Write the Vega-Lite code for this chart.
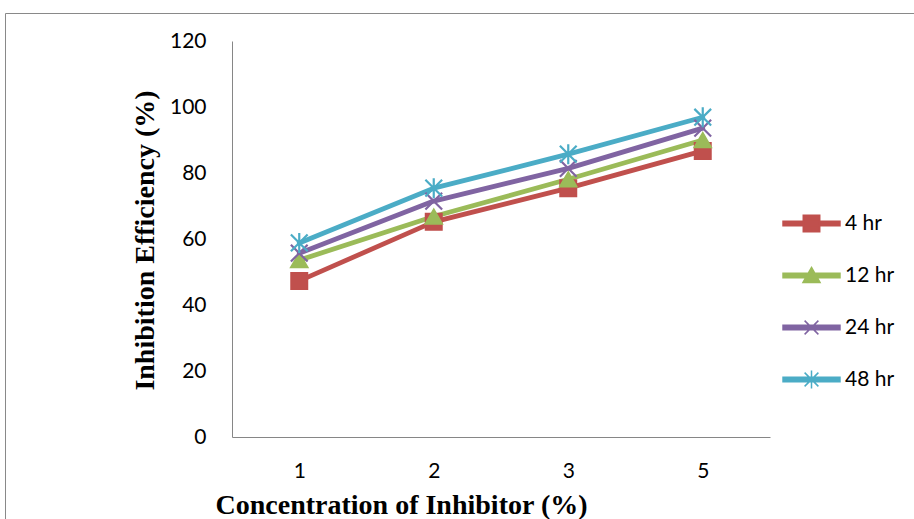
{
  "$schema": "https://vega.github.io/schema/vega-lite/v6.json",
  "autosize": {"type": "none"},
  "padding": {"left": 5, "top": 13, "right": 0, "bottom": 0},
  "width": 909,
  "height": 506,
  "background": "white",
  "title": {
    "text": "Figure 2: IR spectrum of BDHNPMPS",
    "font": "Liberation Serif",
    "fontStyle": "italic",
    "fontWeight": "normal",
    "fontSize": 25,
    "color": "#000000",
    "anchor": "middle",
    "baseline": "alphabetic",
    "offset": 9
  },
  "config": {"view": {"stroke": "#898989", "strokeWidth": 1}},
  "data": {
    "values": [
      {"series": "4 hr", "conc": "1", "ie": 47.3},
      {"series": "4 hr", "conc": "2", "ie": 65.2},
      {"series": "4 hr", "conc": "3", "ie": 75.4},
      {"series": "4 hr", "conc": "5", "ie": 86.7},
      {"series": "12 hr", "conc": "1", "ie": 53.6},
      {"series": "12 hr", "conc": "2", "ie": 66.8},
      {"series": "12 hr", "conc": "3", "ie": 78.1},
      {"series": "12 hr", "conc": "5", "ie": 90.0},
      {"series": "24 hr", "conc": "1", "ie": 55.7},
      {"series": "24 hr", "conc": "2", "ie": 71.5},
      {"series": "24 hr", "conc": "3", "ie": 81.4},
      {"series": "24 hr", "conc": "5", "ie": 93.6},
      {"series": "48 hr", "conc": "1", "ie": 58.8},
      {"series": "48 hr", "conc": "2", "ie": 75.4},
      {"series": "48 hr", "conc": "3", "ie": 85.7},
      {"series": "48 hr", "conc": "5", "ie": 96.9}
    ]
  },
  "encoding": {
    "x": {
      "field": "conc",
      "type": "ordinal",
      "sort": ["1", "2", "3", "5"],
      "scale": {"type": "point", "range": [227, 765], "padding": 0.5},
      "axis": {
        "orient": "bottom",
        "offset": -82,
        "ticks": false,
        "tickSize": 0,
        "grid": false,
        "labelAngle": 0,
        "labelFont": "Lato",
        "labelFontSize": 21,
        "labelColor": "#000000",
        "labelPadding": 23,
        "domainColor": "#868686",
        "domainWidth": 1,
        "title": "Concentration of Inhibitor (%)",
        "titleFont": "Liberation Serif",
        "titleFontSize": 28,
        "titleFontWeight": "bold",
        "titleColor": "#000000",
        "titleX": 396,
        "titleY": 76,
        "titleAlign": "center",
        "titleBaseline": "alphabetic"
      }
    },
    "y": {
      "field": "ie",
      "type": "quantitative",
      "scale": {"domain": [0, 120], "range": [424, 28], "nice": false, "zero": true},
      "axis": {
        "orient": "left",
        "offset": -227,
        "grid": false,
        "ticks": false,
        "tickSize": 0,
        "values": [0, 20, 40, 60, 80, 100, 120],
        "labelFont": "Lato",
        "labelFontSize": 21,
        "labelColor": "#000000",
        "labelPadding": 26,
        "labelFlush": false,
        "labelOverlap": false,
        "domainColor": "#868686",
        "domainWidth": 1,
        "title": "Inhibition Efficiency (%)",
        "titleFont": "Liberation Serif",
        "titleFontSize": 28,
        "titleFontWeight": "bold",
        "titleColor": "#000000",
        "titleAngle": 270,
        "titleX": -79,
        "titleY": 227,
        "titleAlign": "center",
        "titleBaseline": "alphabetic"
      }
    },
    "color": {
      "field": "series",
      "type": "nominal",
      "sort": ["4 hr", "12 hr", "24 hr", "48 hr"],
      "scale": {
        "domain": ["4 hr", "12 hr", "24 hr", "48 hr"],
        "range": ["#C0504D", "#9BBB59", "#8064A2", "#4BACC6"]
      },
      "legend": {
        "orient": "none",
        "legendX": 783.5,
        "legendY": 187.5,
        "title": null,
        "padding": 0,
        "rowPadding": 0,
        "labelFont": "Lato",
        "labelFontSize": 21,
        "labelColor": "#000000",
        "labelOffset": 10.5,
        "symbolSize": 1980,
        "symbolStrokeWidth": 1.5,
        "symbolOpacity": 1
      }
    }
  },
  "layer": [
    {"mark": {"type": "line", "strokeWidth": 4.8, "strokeCap": "round", "strokeJoin": "round"}},
    {
      "transform": [{"filter": "datum.ie < 0"}],
      "mark": {"type": "point", "filled": true, "size": 1980, "strokeWidth": 1.5, "opacity": 1},
      "encoding": {
        "shape": {
          "field": "series",
          "type": "nominal",
          "scale": {
            "domain": ["4 hr", "12 hr", "24 hr", "48 hr"],
            "range": [
              "M0,-1M0,1M-1.28,-0.096H1.28V0.096H-1.28ZM-0.37,-0.37H0.37V0.37H-0.37Z",
              "M0,-1M0,1M-1.28,-0.096H1.28V0.096H-1.28ZM0,-0.363L0.384,0.32H-0.384Z",
              "M0,-1M0,1M-1.28,-0.096H1.28V0.096H-1.28ZM-0.31,-0.31L0.31,0.31M-0.31,0.31L0.31,-0.31",
              "M0,-1M0,1M-1.28,-0.096H1.28V0.096H-1.28ZM-0.31,-0.31L0.31,0.31M-0.31,0.31L0.31,-0.31M0,-0.405V0.405"
            ]
          },
          "legend": null
        },
        "stroke": {
          "field": "series",
          "type": "nominal",
          "scale": {
            "domain": ["4 hr", "12 hr", "24 hr", "48 hr"],
            "range": ["#C0504D", "#9BBB59", "#8064A2", "#4BACC6"]
          },
          "legend": null
        }
      }
    },
    {
      "transform": [{"filter": {"field": "series", "equal": "4 hr"}}],
      "mark": {"type": "point", "shape": "square", "filled": true, "size": 272, "strokeWidth": 1.5, "opacity": 1, "stroke": "#C0504D"}
    },
    {
      "transform": [{"filter": {"field": "series", "equal": "12 hr"}}],
      "mark": {"type": "point", "shape": "triangle-up", "filled": true, "size": 300, "strokeWidth": 1.5, "opacity": 1, "stroke": "#9BBB59"}
    },
    {
      "transform": [{"filter": {"field": "series", "equal": "24 hr"}}],
      "mark": {"type": "point", "shape": "M-1,-1L1,1M-1,1L1,-1", "filled": true, "size": 280, "strokeWidth": 2.2, "opacity": 1, "stroke": "#8064A2"}
    },
    {
      "transform": [{"filter": {"field": "series", "equal": "48 hr"}}],
      "mark": {"type": "point", "shape": "M-1,-1L1,1M-1,1L1,-1M0,-1.2V1.2", "filled": true, "size": 280, "strokeWidth": 2.2, "opacity": 1, "stroke": "#4BACC6"}
    }
  ]
}
